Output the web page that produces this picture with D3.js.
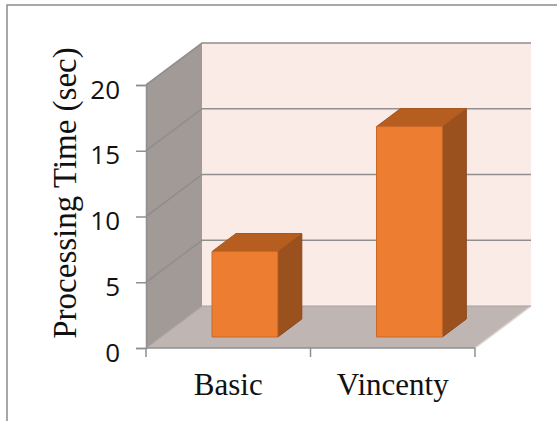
<!DOCTYPE html>
<html><head><meta charset="utf-8">
<script src="https://cdn.jsdelivr.net/npm/d3@7"></script>
<style>body{margin:0;background:#fff}svg{display:block}</style>
</head><body>
<svg id="c" width="557" height="421"></svg>
<script>
const categories = ["Basic", "Vincenty"];
const values = [6.5, 16];
const yTicks = [0, 5, 10, 15, 20];
const yTitle = "Processing Time (sec)";

const svg = d3.select("#c");
// depth projection
const DX = 56, DY = -42;
const x = d3.scaleBand().domain(categories).range([146, 475]).padding(0);
const y = d3.scaleLinear().domain([0, 20]).range([348, 85]);
const P = (px, v, z) => [px + z * DX, y(v) + z * DY];
const poly = pts => "M" + pts.map(p => p.join(",")).join("L") + "Z";

// outer frame
svg.append("path").attr("d", "M7,421V5H557").attr("fill", "none").attr("stroke", "#8c8c8c").attr("stroke-width", 1.5);

const x0 = x.range()[0], x1 = x.range()[1];
const ymin = y.domain()[0], ymax = y.domain()[1];
// back wall
svg.append("path").attr("d", poly([P(x0, ymin, 1), P(x0, ymax, 1), P(x1, ymax, 1), P(x1, ymin, 1)]))
  .attr("fill", "#fbebe6");
// side wall
svg.append("path").attr("d", poly([P(x0, ymin, 0), P(x0, ymax, 0), P(x0, ymax, 1), P(x0, ymin, 1)]))
  .attr("fill", "#a29a96");
// floor
svg.append("path").attr("d", poly([P(x0, ymin, 0), P(x1, ymin, 0), P(x1, ymin, 1), P(x0, ymin, 1)]))
  .attr("fill", "#bfb6b4");
svg.append("path").attr("d", "M" + P(x1, ymin, 0).join(",") + "L" + P(x1, ymin, 1).join(","))
  .attr("stroke", "#d8d2d0").attr("stroke-width", 1.5).attr("fill", "none");

// gridlines
yTicks.filter(t => t > 0).forEach(t => {
  const a = P(x0, t, 0), b = P(x0, t, 1), c = P(x1, t, 1);
  svg.append("path").attr("d", `M${a}L${b}L${c}`).attr("fill", "none")
    .attr("stroke", "#8f8f8f").attr("stroke-width", 1.6);
});
svg.append("path").attr("d", `M${P(x0, 0, 0)}L${P(x0, 0, 1)}L${P(x1, 0, 1)}`).attr("fill", "none")
  .attr("stroke", "#a9a09d").attr("stroke-width", 1.2);

// axes
const yAxis = svg.append("g").attr("transform", `translate(${x0},0)`)
  .call(d3.axisLeft(y).tickValues(yTicks).tickSize(10).tickPadding(16));
yAxis.attr("font-size", null).attr("font-family", null);
yAxis.select(".domain").attr("stroke", "#8f8f8f").attr("stroke-width", 1.5);
yAxis.selectAll(".tick line").attr("stroke", "#8f8f8f").attr("stroke-width", 1.5);
yAxis.selectAll("text").style("font-family", "'Open Sans', sans-serif").style("font-size", "26px")
  .attr("fill", "#111").attr("dy", "0.5em");

const xAxisG = svg.append("g").attr("transform", `translate(0,${y(0)})`);
xAxisG.append("path").attr("d", `M${x0},0H${x1}`).attr("stroke", "#8f8f8f").attr("stroke-width", 1.5);
const edges = categories.map(c => x(c)).concat([x1]);
xAxisG.selectAll("line.tk").data(edges).join("line").attr("class", "tk")
  .attr("x1", d => d).attr("x2", d => d).attr("y1", 0).attr("y2", 9)
  .attr("stroke", "#8f8f8f").attr("stroke-width", 1.5);
xAxisG.selectAll("text").data(categories).join("text")
  .attr("x", d => x(d) + x.bandwidth() / 2).attr("y", 47)
  .attr("text-anchor", "middle").style("font-family", "'Liberation Serif', 'Times New Roman', serif")
  .style("font-size", "31px").attr("fill", "#111").text(d => d);

// title
svg.append("text").attr("transform", "translate(76,193) rotate(-90)")
  .attr("text-anchor", "middle").style("font-family", "'Liberation Serif', 'Times New Roman', serif")
  .style("font-size", "33px").attr("fill", "#111").text(yTitle);

// bars
const zF = 0.262, zB = 0.69, wFrac = 0.4;
const bars = svg.append("g");
categories.forEach((c, i) => {
  const bw = x.bandwidth() * wFrac;
  const l = x(c) + (x.bandwidth() - bw) / 2 + 2, r = l + bw;
  const v = values[i];
  const g = bars.append("g").attr("stroke-width", 1).attr("stroke-linejoin", "round");
  // right side
  g.append("path").attr("d", poly([P(r, 0, zF), P(r, v, zF), P(r, v, zB), P(r, 0, zB)]))
    .attr("fill", "#9b511d").attr("stroke", "#8a461a");
  // top
  g.append("path").attr("d", poly([P(l, v, zF), P(r, v, zF), P(r, v, zB), P(l, v, zB)]))
    .attr("fill", "#b65e20").attr("stroke", "#a9561c");
  // front
  g.append("path").attr("d", poly([P(l, 0, zF), P(l, v, zF), P(r, v, zF), P(r, 0, zF)]))
    .attr("fill", "#ed7d31").attr("stroke", "#c9692a");
});
</script>
</body></html>
